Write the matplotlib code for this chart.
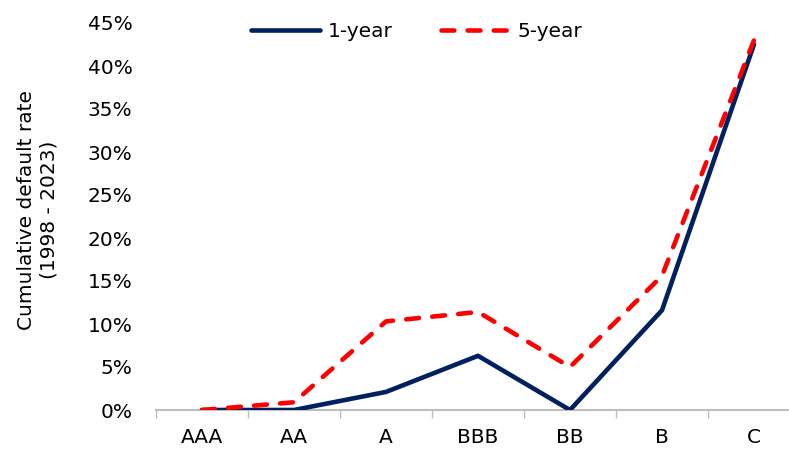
import matplotlib
matplotlib.use("Agg")
import matplotlib.pyplot as plt
from matplotlib.ticker import PercentFormatter, FixedLocator

ratings = ["AAA", "AA", "A", "BBB", "BB", "B", "C"]
one_year = [0.0, 0.0, 2.1, 6.3, 0.0, 11.6, 42.5]
five_year = [0.0, 0.9, 10.3, 11.4, 5.0, 15.6, 43.0]

navy = "#002060"
red = "#FF0000"
fs = 14.5

plt.rcParams["font.family"] = ["DejaVu Sans"]

fig = plt.figure(figsize=(7.89, 4.5), dpi=100)
ax = fig.add_axes([156 / 789, 40 / 450, 644 / 789, 387 / 450])

x = list(range(len(ratings)))
ax.plot(x, one_year, color=navy, lw=3.3, solid_capstyle="round",
        solid_joinstyle="round", label="1-year", zorder=3)
ax.plot(x, five_year, color=red, lw=3.3, dashes=(2.8, 2.9),
        dash_capstyle="round", dash_joinstyle="round", label="5-year", zorder=4)

ax.set_xlim(-0.5, len(ratings) - 0.5)
ax.set_ylim(0, 45)
ax.set_yticks(range(0, 46, 5))
ax.yaxis.set_major_formatter(PercentFormatter(decimals=0))
ax.tick_params(axis="y", length=0, pad=17, labelsize=fs)

ax.set_xticks(x)
ax.set_xticklabels(ratings)
ax.xaxis.set_minor_locator(FixedLocator([i - 0.5 for i in range(len(ratings) + 1)]))
ax.tick_params(axis="x", which="major", length=0, pad=13, labelsize=fs)
ax.tick_params(axis="x", which="minor", length=6, width=1, color="#BFBFBF")

for side in ["top", "right", "left"]:
    ax.spines[side].set_visible(False)
ax.spines["bottom"].set_color("#BFBFBF")
ax.spines["bottom"].set_linewidth(1.5)

fig.text(38 / 789, 0.533, "Cumulative default rate\n(1998 - 2023)", rotation=90,
         ha="center", va="center", multialignment="center", fontsize=fs)

fig.legend(loc="center", bbox_to_anchor=(0.528, 0.929), ncol=2, frameon=False,
           fontsize=fs, handlelength=3.4, handletextpad=0.4, columnspacing=2.4)

fig.savefig("out.png", dpi=100)
